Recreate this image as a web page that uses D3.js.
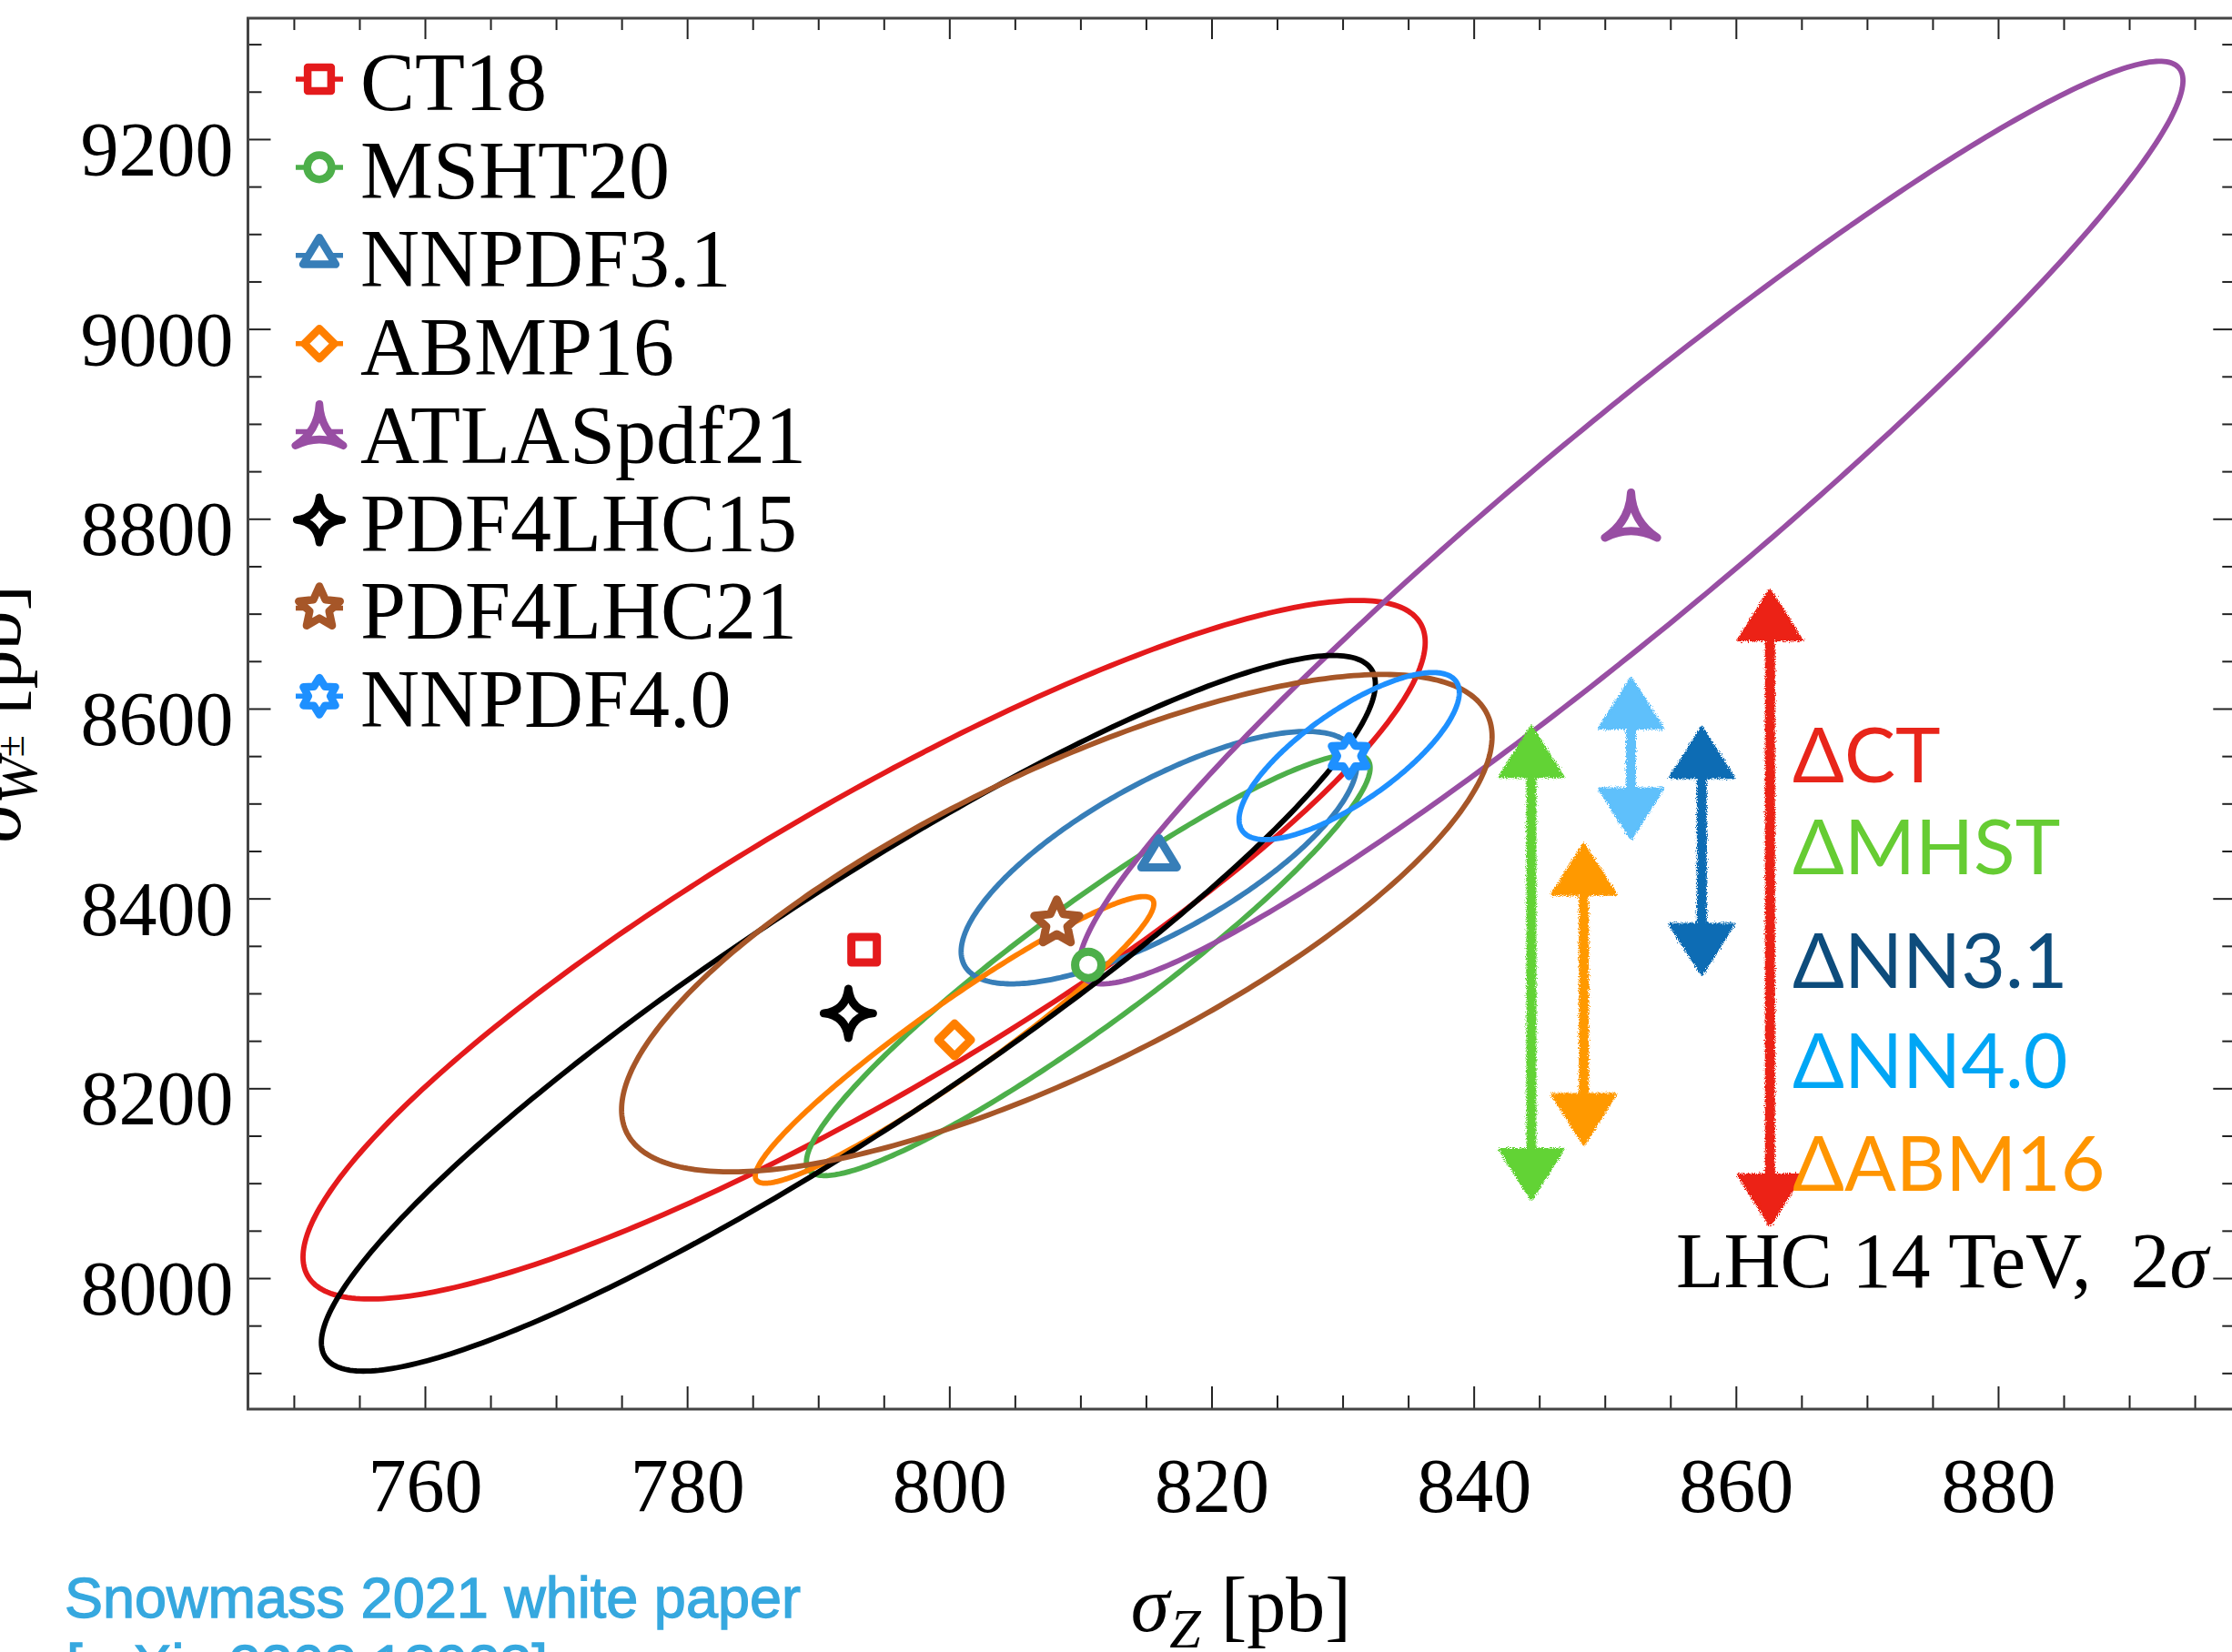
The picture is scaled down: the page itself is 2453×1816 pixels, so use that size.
<!DOCTYPE html>
<html>
<head>
<meta charset="utf-8">
<script src="https://cdn.jsdelivr.net/npm/d3@7"></script>
<style>
  html, body { margin: 0; padding: 0; background: #fff; }
  svg { display: block; }
</style>
</head>
<body>
<script>
// ---- PDF sets: central values and 2-sigma ellipse parameters (LHC 14 TeV) ----
const pdfSets   = ["CT18", "MSHT20", "NNPDF3.1", "ABMP16", "ATLASpdf21", "PDF4LHC15", "PDF4LHC21", "NNPDF4.0"];
const setColors = ["#e41a1c", "#4daf4a", "#377eb8", "#ff7f00", "#984ea3", "#000000", "#a65628", "#1e90ff"];
const setShapes = ["square", "circle", "triangle", "diamond", "tri", "star4", "star5", "star6"];
const sigmaZ    = [793.5, 810.6, 816.0, 800.4, 852.0, 792.3, 808.2, 830.5];   // pb
const sigmaW    = [8346, 8330, 8443, 8251, 8796, 8279, 8374, 8550];          // pb
const halfZ     = [42.8, 21.5, 15.1, 15.2, 42.1, 40.2, 33.2, 8.4];          // ellipse half-extent in sigma_Z
const halfW     = [368, 222, 133, 151, 486, 377, 262, 88];                  // ellipse half-extent in sigma_W
const corr      = [0.88, 0.935, 0.744, 0.95, 0.958, 0.92, 0.75, 0.76];      // correlation

// ---- spread of sigma_W per group (hand-drawn arrows) ----
const arrowZ      = [844.4, 848.4, 852.0, 857.4, 862.6];
const arrowTop    = [8581, 8457, 8632, 8580, 8725];
const arrowBottom = [8083, 8141, 8463, 8320, 8056];
const arrowColors = ["#62d336", "#ff9900", "#5ec0fb", "#0a6cb4", "#ec2212"];

const deltaLabels = ["ΔCT", "ΔMHST", "ΔNN3.1", "ΔNN4.0", "ΔABM16"];
const deltaColors = ["#e8251a", "#66cc33", "#0d4c7c", "#00a6f5", "#ff9500"];

// ---- axis ticks ----
const xMajorTicks = [760, 780, 800, 820, 840, 860, 880];
const xTickLabels = ["760", "780", "800", "820", "840", "860", "880"];
const yMajorTicks = [8000, 8200, 8400, 8600, 8800, 9000, 9200];
const yTickLabels = ["8000", "8200", "8400", "8600", "8800", "9000", "9200"];

// ---------------------------------------------------------------------------
const W = 2453, H = 1816;
const pLeft = 272.5, pRight = 2455.3, pTop = 20, pBottom = 1549;
const serif = "'Liberation Serif', 'DejaVu Serif', serif";

const x = d3.scaleLinear().domain([746.5, 898]).range([pLeft, pRight]);
const y = d3.scaleLinear().domain([7862, 9327.4]).range([pBottom, pTop]);

const svg = d3.select("body").append("svg").attr("width", W).attr("height", H);
svg.append("rect").attr("width", W).attr("height", H).attr("fill", "#fff");

const defs = svg.append("defs");
const crayon = defs.append("filter").attr("id", "crayon")
  .attr("x", "-30%").attr("y", "-10%").attr("width", "160%").attr("height", "120%");
crayon.append("feTurbulence").attr("type", "fractalNoise").attr("baseFrequency", 0.9)
  .attr("numOctaves", 2).attr("seed", 7).attr("result", "noise");
crayon.append("feDisplacementMap").attr("in", "SourceGraphic").attr("in2", "noise")
  .attr("scale", 7).attr("xChannelSelector", "R").attr("yChannelSelector", "G");

defs.append("clipPath").attr("id", "plotClip").append("rect")
  .attr("x", pLeft).attr("y", pTop).attr("width", pRight - pLeft).attr("height", pBottom - pTop);

// ---- marker shapes ----
function markerPath(kind, k) {
  const p = d3.path();
  const poly = pts => { p.moveTo(pts[0][0], pts[0][1]); pts.slice(1).forEach(q => p.lineTo(q[0], q[1])); p.closePath(); };
  if (kind === "square") {
    const s = 14 * k; poly([[-s, -s], [s, -s], [s, s], [-s, s]]);
  } else if (kind === "circle") {
    const r = 14.5 * k; p.moveTo(r, 0); p.arc(0, 0, r, 0, 2 * Math.PI);
  } else if (kind === "triangle") {
    const w = 19.5 * k, h = 32 * k; poly([[0, -2 * h / 3], [w, h / 3], [-w, h / 3]]);
  } else if (kind === "diamond") {
    const r = 18 * k; poly([[0, -r], [r, 0], [0, r], [-r, 0]]);
  } else if (kind === "tri") {
    const R = 33 * k, c = 0.06 * R;
    const tips = [-90, 30, 150].map(a => [R * Math.cos(a * Math.PI / 180), R * Math.sin(a * Math.PI / 180)]);
    p.moveTo(tips[0][0], tips[0][1]);
    for (let i = 0; i < 3; i++) {
      const A = tips[i], B = tips[(i + 1) % 3];
      const mx = (A[0] + B[0]), my = (A[1] + B[1]), m = Math.hypot(mx, my);
      p.quadraticCurveTo(c * mx / m, c * my / m, B[0], B[1]);
    }
    p.closePath();
  } else if (kind === "star4") {
    const R = 27 * k, c = 0.1 * R;
    const tips = [[0, -R], [R, 0], [0, R], [-R, 0]];
    const ctrl = [[c, -c], [c, c], [-c, c], [-c, -c]];
    p.moveTo(tips[0][0], tips[0][1]);
    for (let i = 0; i < 4; i++) {
      const B = tips[(i + 1) % 4];
      p.quadraticCurveTo(ctrl[i][0], ctrl[i][1], B[0], B[1]);
    }
    p.closePath();
  } else if (kind === "star5" || kind === "star6") {
    const n = kind === "star5" ? 5 : 6;
    const R = (kind === "star5" ? 26 : 22) * k;
    const r = kind === "star5" ? 0.47 * R : 0.6 * R;
    const pts = [];
    for (let i = 0; i < 2 * n; i++) {
      const a = -Math.PI / 2 + i * Math.PI / n, rr = i % 2 ? r : R;
      pts.push([rr * Math.cos(a), rr * Math.sin(a)]);
    }
    poly(pts);
  }
  return p.toString();
}

// ---- ellipses ----
const line = d3.line().x(d => x(d[0])).y(d => y(d[1])).curve(d3.curveLinearClosed);
const angles = d3.range(0, 360, 1).map(a => a * Math.PI / 180);
const ellipseG = svg.append("g").attr("clip-path", "url(#plotClip)");
pdfSets.forEach((name, i) => {
  const th = Math.acos(corr[i]);
  const pts = angles.map(t => [sigmaZ[i] + halfZ[i] * Math.cos(t), sigmaW[i] + halfW[i] * Math.cos(t - th)]);
  ellipseG.append("path").attr("d", line(pts))
    .attr("fill", "none").attr("stroke", setColors[i]).attr("stroke-width", 5.8);
});

// ---- central values ----
pdfSets.forEach((name, i) => {
  svg.append("path").attr("d", markerPath(setShapes[i], 1))
    .attr("transform", `translate(${x(sigmaZ[i])},${y(sigmaW[i])})`)
    .attr("fill", "#fff").attr("stroke", setColors[i]).attr("stroke-width", 9)
    .attr("stroke-linejoin", "round");
});

// ---- frame and ticks ----
function styleAxis(g) {
  g.select(".domain").remove();
  g.selectAll(".tick line").attr("stroke", "#222").attr("stroke-width", 2);
  g.selectAll("text").attr("font-family", serif).attr("font-size", 84).attr("fill", "#000");
}
const xMinor = d3.range(750, 898, 5).filter(v => !xMajorTicks.includes(v));
const yMinor = d3.range(7900, 9327, 50).filter(v => !yMajorTicks.includes(v));

svg.append("g").attr("transform", `translate(0,${pBottom})`)
  .call(d3.axisBottom(x).tickValues(xMajorTicks).tickFormat((d, i) => xTickLabels[i])
    .tickSizeInner(-25).tickSizeOuter(0).tickPadding(53)).call(styleAxis);
svg.append("g").attr("transform", `translate(0,${pBottom})`)
  .call(d3.axisBottom(x).tickValues(xMinor).tickFormat("").tickSizeInner(-15).tickSizeOuter(0)).call(styleAxis);
svg.append("g").attr("transform", `translate(0,${pTop})`)
  .call(d3.axisTop(x).tickValues(xMajorTicks).tickFormat("").tickSizeInner(-23).tickSizeOuter(0)).call(styleAxis);
svg.append("g").attr("transform", `translate(0,${pTop})`)
  .call(d3.axisTop(x).tickValues(xMinor).tickFormat("").tickSizeInner(-13).tickSizeOuter(0)).call(styleAxis);

const yAxisL = svg.append("g").attr("transform", `translate(${pLeft},0)`)
  .call(d3.axisLeft(y).tickValues(yMajorTicks).tickFormat((d, i) => yTickLabels[i])
    .tickSizeInner(-25).tickSizeOuter(0).tickPadding(16)).call(styleAxis);
yAxisL.selectAll("text").attr("dy", "0.47em");
svg.append("g").attr("transform", `translate(${pLeft},0)`)
  .call(d3.axisLeft(y).tickValues(yMinor).tickFormat("").tickSizeInner(-15).tickSizeOuter(0)).call(styleAxis);
svg.append("g").attr("transform", `translate(${pRight},0)`)
  .call(d3.axisRight(y).tickValues(yMajorTicks).tickFormat("").tickSizeInner(-23).tickSizeOuter(0)).call(styleAxis);
svg.append("g").attr("transform", `translate(${pRight},0)`)
  .call(d3.axisRight(y).tickValues(yMinor).tickFormat("").tickSizeInner(-13).tickSizeOuter(0)).call(styleAxis);

svg.append("rect").attr("x", pLeft).attr("y", pTop).attr("width", pRight - pLeft).attr("height", pBottom - pTop)
  .attr("fill", "none").attr("stroke", "#444").attr("stroke-width", 3);

// ---- axis titles ----
const xTitle = svg.append("text").attr("x", (pLeft + pRight) / 2).attr("y", 1793)
  .attr("text-anchor", "middle").attr("font-family", serif).attr("font-size", 86);
xTitle.append("tspan").attr("font-style", "italic").text("σ");
xTitle.append("tspan").attr("font-style", "italic").attr("font-size", 62).attr("dy", 18).text("Z");
xTitle.append("tspan").attr("dy", -18).attr("dx", 22).text("[pb]");

const yTitle = svg.append("text").attr("transform", `translate(22,${(pTop + pBottom) / 2}) rotate(-90)`)
  .attr("text-anchor", "middle").attr("font-family", serif).attr("font-size", 86);
yTitle.append("tspan").attr("font-style", "italic").text("σ");
yTitle.append("tspan").attr("font-style", "italic").attr("font-size", 62).attr("dy", 18).text("W");
yTitle.append("tspan").attr("font-size", 44).attr("dy", -14).text("±");
yTitle.append("tspan").attr("dy", -4).attr("dx", 22).text("[pb]");

// ---- legend ----
const legend = svg.append("g");
pdfSets.forEach((name, i) => {
  const cy = 87 + i * 96.9;
  const g = legend.append("g").attr("transform", `translate(351,${cy})`);
  g.append("line").attr("x1", -26).attr("x2", 26).attr("stroke", setColors[i]).attr("stroke-width", 5.5);
  g.append("path").attr("d", markerPath(setShapes[i], 0.92))
    .attr("fill", "#fff").attr("stroke", setColors[i]).attr("stroke-width", 8.5).attr("stroke-linejoin", "round");
  legend.append("text").attr("x", 396).attr("y", cy + 34)
    .attr("font-family", serif).attr("font-size", 90).attr("fill", "#000").text(name);
});

// ---- sigma_W spread arrows ----
const arrowG = svg.append("g").attr("filter", "url(#crayon)");
arrowZ.forEach((z, i) => {
  const ax = x(z), yt = y(arrowTop[i]), yb = y(arrowBottom[i]);
  const hw = 35, hl = 55;
  arrowG.append("line").attr("x1", ax).attr("x2", ax).attr("y1", yt + hl - 4).attr("y2", yb - hl + 4)
    .attr("stroke", arrowColors[i]).attr("stroke-width", 11);
  arrowG.append("path").attr("d", `M${ax},${yt} L${ax + hw},${yt + hl} L${ax - hw},${yt + hl} Z`)
    .attr("fill", arrowColors[i]).attr("stroke", arrowColors[i]).attr("stroke-width", 3).attr("stroke-linejoin", "round");
  arrowG.append("path").attr("d", `M${ax},${yb} L${ax + hw},${yb - hl} L${ax - hw},${yb - hl} Z`)
    .attr("fill", arrowColors[i]).attr("stroke", arrowColors[i]).attr("stroke-width", 3).attr("stroke-linejoin", "round");
});

const labelBaselines = [860, 961, 1086, 1196, 1309];
deltaLabels.forEach((t, i) => {
  svg.append("text").attr("x", 1970).attr("y", labelBaselines[i])
    .attr("font-family", "Lato, 'Noto Sans', sans-serif").attr("font-size", 84)
    .attr("fill", deltaColors[i]).text(t);
});

// ---- annotations ----
const lhc = svg.append("text").attr("x", 2427).attr("y", 1415).attr("text-anchor", "end")
  .attr("font-family", serif).attr("font-size", 86).attr("fill", "#000");
lhc.append("tspan").text("LHC 14 TeV,\u20022");
lhc.append("tspan").attr("font-style", "italic").text("σ");

const ref = svg.append("g").attr("font-family", "'Liberation Sans', Arial, sans-serif")
  .attr("font-size", 63).attr("fill", "#36a8df").attr("stroke", "#36a8df").attr("stroke-width", 1.3);
ref.append("text").attr("x", 71).attr("y", 1778).text("Snowmass 2021 white paper");
ref.append("text").attr("x", 73).attr("y", 1852).text("[arXiv:2203.13923]");
</script>
</body>
</html>
